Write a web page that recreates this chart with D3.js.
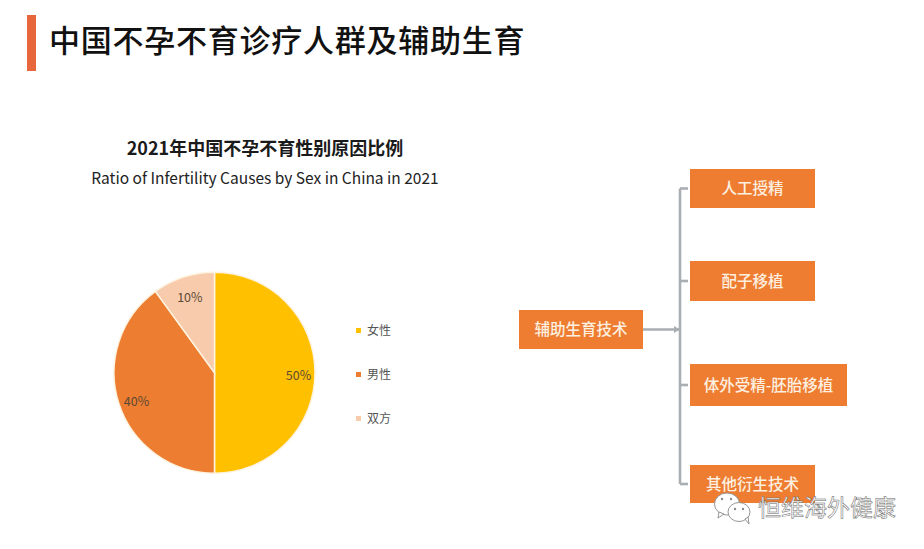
<!DOCTYPE html>
<html>
<head>
<meta charset="utf-8">
<script src="https://cdn.jsdelivr.net/npm/d3@7"></script>
<style>
  html, body { margin: 0; padding: 0; background: #fff; }
  svg { display: block; }
  text { font-family: "Noto Sans CJK SC", "Noto Sans", sans-serif; }
</style>
</head>
<body>
<div id="chart"></div>
<script>
const pageTitle = "中国不孕不育诊疗人群及辅助生育";
const chartTitle = "2021年中国不孕不育性别原因比例";
const chartSubtitle = "Ratio of Infertility Causes by Sex in China in 2021";

// pie data
const causes = ["女性", "男性", "双方"];
const shares = [50, 40, 10];

// diagram data
const rootTech = "辅助生育技术";
const techs = ["人工授精", "配子移植", "体外受精-胚胎移植", "其他衍生技术"];

const watermark = "恒维海外健康";

const width = 924, height = 549;
const colors = ["#FFC000", "#ED7D31", "#F8CBAD"];
const orange = "#EE7D31";
const lineGray = "#A9AEB3";

const svg = d3.select("#chart")
  .append("svg")
  .attr("width", width)
  .attr("height", height);

// heading
svg.append("rect")
  .attr("x", 27).attr("y", 15)
  .attr("width", 9).attr("height", 56)
  .attr("fill", "#E8663C");

svg.append("text")
  .attr("x", 49).attr("y", 52)
  .attr("font-size", 31)
  .attr("letter-spacing", 0.75)
  .attr("font-weight", 500)
  .attr("fill", "#111")
  .text(pageTitle);

svg.append("text")
  .attr("x", 265).attr("y", 154.5)
  .attr("text-anchor", "middle")
  .attr("font-size", 18)
  .attr("font-weight", 700)
  .attr("fill", "#1a1a1a")
  .text(chartTitle);

svg.append("text")
  .attr("x", 265).attr("y", 184)
  .attr("text-anchor", "middle")
  .attr("font-size", 15.5)
  .attr("fill", "#222")
  .text(chartSubtitle);

// pie
const radius = 100.5;
const pie = d3.pie().sort(null).value(d => d);
const arc = d3.arc().innerRadius(0).outerRadius(radius);
const labelArc = d3.arc().innerRadius(83).outerRadius(83);
const color = d3.scaleOrdinal().domain(causes).range(colors);

const pieG = svg.append("g").attr("transform", "translate(214.5,372.7)");

pieG.selectAll("path")
  .data(pie(shares))
  .enter()
  .append("path")
  .attr("d", arc)
  .attr("fill", (d, i) => color(causes[i]))
  .attr("stroke", "#fdf3df")
  .attr("stroke-width", 1.5);

pieG.selectAll("text")
  .data(pie(shares))
  .enter()
  .append("text")
  .attr("transform", d => `translate(${labelArc.centroid(d)})`)
  .attr("dx", 1)
  .attr("dy", "0.62em")
  .attr("text-anchor", "middle")
  .attr("font-size", 12.5)
  .attr("fill", "#5b4a35")
  .text(d => d.data + "%");

// legend
const legendY = d3.scalePoint().domain(causes).range([330.5, 418.5]);

const legend = svg.selectAll(".legend")
  .data(causes)
  .enter()
  .append("g")
  .attr("class", "legend")
  .attr("transform", d => `translate(0,${legendY(d)})`);

legend.append("rect")
  .attr("x", 356).attr("y", -2.5)
  .attr("width", 5).attr("height", 5)
  .attr("fill", d => color(d));

legend.append("text")
  .attr("x", 367)
  .attr("dy", "0.36em")
  .attr("font-size", 12)
  .attr("fill", "#555")
  .text(d => d);

// diagram
const boxBounds = [
  { x: 690, y: 169, w: 125, h: 39 },
  { x: 690, y: 261, w: 125, h: 40 },
  { x: 690, y: 364, w: 157, h: 42 },
  { x: 690, y: 465, w: 125, h: 38 }
];
const rootBounds = { x: 519, y: 310, w: 124, h: 39 };
const trunkX = 680;
const rootMid = rootBounds.y + rootBounds.h / 2;
const boxMid = b => b.y + b.h / 2;

const lines = svg.append("g")
  .attr("fill", "none")
  .attr("stroke", lineGray)
  .attr("stroke-width", 2.6);

lines.append("path")
  .attr("d", `M${trunkX},${boxMid(boxBounds[0])}V${boxMid(boxBounds[3])}`);

lines.selectAll(".branch")
  .data(boxBounds)
  .enter()
  .append("path")
  .attr("class", "branch")
  .attr("d", b => `M${trunkX},${boxMid(b)}H688`);

lines.append("path")
  .attr("d", `M${rootBounds.x + rootBounds.w},${rootMid}H${trunkX}`);

svg.append("path")
  .attr("d", `M${trunkX - 6},${rootMid - 3.5}L${trunkX},${rootMid}L${trunkX - 6},${rootMid + 3.5}Z`)
  .attr("fill", lineGray);

const nodes = svg.selectAll(".node")
  .data(techs.map((t, i) => ({ label: t, box: boxBounds[i] })).concat([{ label: rootTech, box: rootBounds }]))
  .enter()
  .append("g")
  .attr("class", "node");

nodes.append("rect")
  .attr("x", d => d.box.x)
  .attr("y", d => d.box.y)
  .attr("width", d => d.box.w)
  .attr("height", d => d.box.h)
  .attr("fill", orange);

nodes.append("text")
  .attr("x", d => d.box.x + d.box.w / 2)
  .attr("y", d => d.box.y + d.box.h / 2)
  .attr("dy", "0.36em")
  .attr("text-anchor", "middle")
  .attr("font-size", 15.5)
  .attr("font-weight", 500)
  .attr("fill", "#fdf0e0")
  .text(d => d.label);

// watermark
const mark = svg.append("g")
  .attr("fill", "#fff")
  .attr("stroke", "#8a8a8a")
  .attr("stroke-width", 0.9);

mark.append("ellipse").attr("cx", 727).attr("cy", 504).attr("rx", 12.5).attr("ry", 11);
mark.append("path").attr("d", "M719,512l-1,6l6,-4z");
mark.append("ellipse").attr("cx", 739).attr("cy", 512).attr("rx", 11).attr("ry", 9.5);
mark.append("path").attr("d", "M745,519l4,5l-1,-7z");

mark.selectAll(".eye")
  .data([[722, 499], [731, 499], [735, 509], [743, 509]])
  .enter()
  .append("circle")
  .attr("class", "eye")
  .attr("cx", d => d[0])
  .attr("cy", d => d[1])
  .attr("r", 1.2)
  .attr("fill", "#8a8a8a")
  .attr("stroke", "none");

svg.append("text")
  .attr("x", 758).attr("y", 516)
  .attr("font-size", 23)
  .attr("fill", "#fff")
  .attr("stroke", "#666")
  .attr("stroke-width", 0.5)
  .text(watermark);
</script>
</body>
</html>
